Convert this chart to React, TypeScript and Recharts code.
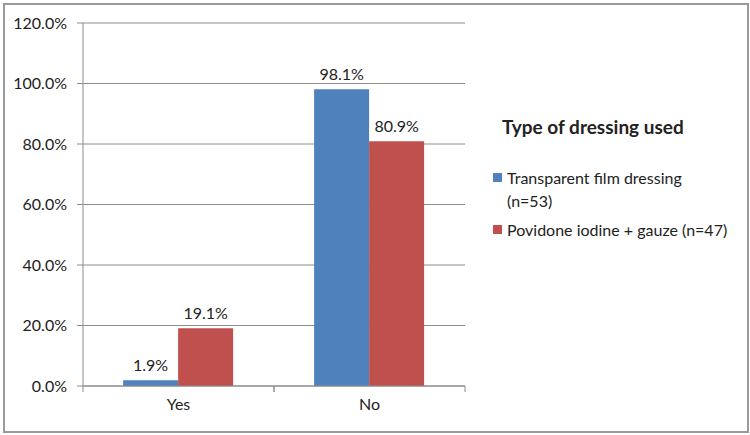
import React from 'react'
import { BarChart, Bar, XAxis, YAxis, CartesianGrid, LabelList } from 'recharts'

const categories = ['Yes', 'No']
const filmDressing = [1.9, 98.1]
const povidoneGauze = [19.1, 80.9]
const yTicks = [0, 20, 40, 60, 80, 100, 120]

const seriesNames = ['Transparent film dressing\n(n=53)', 'Povidone iodine + gauze (n=47)']
const legendTitle = 'Type of dressing used'

const data = categories.map((c, i) => ({
  name: c,
  film: filmDressing[i],
  povidone: povidoneGauze[i],
}))

const FONT = 'Lato, "Liberation Sans", sans-serif'
const AXIS = '#8c8c8c'
const BLUE = '#4F81BD'
const RED = '#C0504D'

const pct = (v: number) => `${Number(v).toFixed(1)}%`

// x ticks sit on the category boundaries, label in the middle
function CategoryTick(props: any) {
  const { x, y, payload } = props
  const off = payload.offset || 0
  return (
    <g>
      <line x1={x - off} y1={y - 8} x2={x - off} y2={y - 2} stroke={AXIS} />
      <line x1={x + off} y1={y - 8} x2={x + off} y2={y - 2} stroke={AXIS} />
      <text x={x} y={y + 16} textAnchor="middle" fill="#222" fontSize={16} fontFamily={FONT}>
        {payload.value}
      </text>
    </g>
  )
}

function DressingLegend() {
  return (
    <div style={{ position: 'absolute', left: 493, top: 115, width: 250, fontFamily: FONT, color: '#222' }}>
      <div style={{ fontSize: 19, fontWeight: 700, marginLeft: 9, marginBottom: 28 }}>{legendTitle}</div>
      {[BLUE, RED].map((col, i) => (
        <div key={i} style={{ display: 'flex', alignItems: 'flex-start', marginBottom: 6 }}>
          <span
            style={{ width: 9, height: 9, background: col, marginTop: 7, marginRight: 5, flex: 'none' }}
          />
          <span style={{ fontSize: 16, lineHeight: '23px', width: 230, whiteSpace: 'pre-line' }}>
            {seriesNames[i]}
          </span>
        </div>
      ))}
    </div>
  )
}

export default function App() {
  return (
    <div style={{ position: 'fixed', left: 0, top: 0, width: 750, height: 435, background: '#fff' }}>
      <BarChart
        width={750}
        height={435}
        data={data}
        margin={{ top: 23, right: 285, bottom: 19, left: 0 }}
        barCategoryGap="21%"
        barGap={0}
      >
        <CartesianGrid vertical={false} stroke={AXIS} />
        <XAxis
          dataKey="name"
          axisLine={{ stroke: AXIS }}
          tickLine={false}
          tick={<CategoryTick />}
          height={30}
          interval={0}
        />
        <YAxis
          domain={[0, 120]}
          ticks={yTicks}
          tickFormatter={pct}
          width={83}
          axisLine={{ stroke: AXIS }}
          tickLine={{ stroke: AXIS }}
          tickSize={6}
          tickMargin={10}
          tick={{ fill: '#222', fontSize: 16, fontFamily: FONT }}
        />
        <Bar dataKey="film" fill={BLUE} isAnimationActive={false}>
          <LabelList dataKey="film" position="top" offset={9} formatter={pct} fill="#222" fontSize={16} fontFamily={FONT} />
        </Bar>
        <Bar dataKey="povidone" fill={RED} isAnimationActive={false}>
          <LabelList dataKey="povidone" position="top" offset={9} formatter={pct} fill="#222" fontSize={16} fontFamily={FONT} />
        </Bar>
      </BarChart>
      <DressingLegend />
      <div
        style={{
          position: 'absolute',
          left: 3,
          top: 3,
          width: 742,
          height: 426,
          border: '2px solid #9a9a9a',
          pointerEvents: 'none',
        }}
      />
    </div>
  )
}
